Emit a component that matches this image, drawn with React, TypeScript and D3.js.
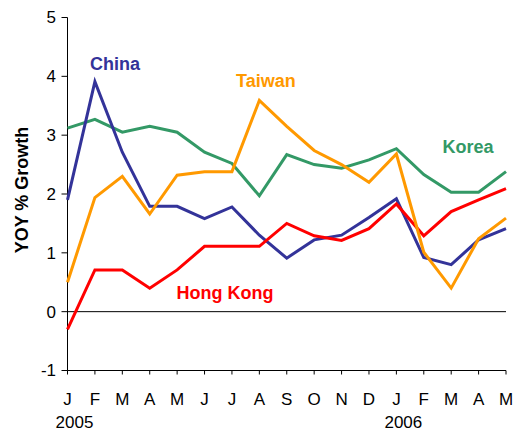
import React from "react";
import * as d3 from "d3";

const months = ["J", "F", "M", "A", "M", "J", "J", "A", "S", "O", "N", "D", "J", "F", "M", "A", "M"];
const years = [
  { label: "2005", index: 0 },
  { label: "2006", index: 12 },
];
const yTicks = [-1, 0, 1, 2, 3, 4, 5];

const korea = [3.12, 3.27, 3.05, 3.15, 3.05, 2.71, 2.52, 1.97, 2.67, 2.5, 2.44, 2.58, 2.77, 2.33, 2.03, 2.03, 2.38];
const china = [1.9, 3.91, 2.71, 1.79, 1.79, 1.58, 1.78, 1.3, 0.91, 1.22, 1.3, 1.6, 1.92, 0.92, 0.8, 1.22, 1.41];
const hongKong = [-0.3, 0.71, 0.71, 0.4, 0.71, 1.11, 1.11, 1.11, 1.5, 1.29, 1.21, 1.41, 1.83, 1.29, 1.7, 1.9, 2.09];
const taiwan = [0.5, 1.94, 2.3, 1.66, 2.32, 2.38, 2.38, 3.59, 3.15, 2.74, 2.5, 2.2, 2.68, 1.01, 0.4, 1.24, 1.59];

const series = [
  { name: "Korea", values: korea, color: "#339966", lx: 442.5, ly: 153 },
  { name: "China", values: china, color: "#333399", lx: 90, ly: 70 },
  { name: "Hong Kong", values: hongKong, color: "#FF0000", lx: 176.5, ly: 299 },
  { name: "Taiwan", values: taiwan, color: "#FF9900", lx: 236, ly: 87 },
];

const W = 522;
const H = 434;
const FONT = "'Liberation Sans', Arial, sans-serif";

export default function App() {
  const x = d3.scaleLinear().domain([0, months.length - 1]).range([67.5, 506]);
  const y = d3.scaleLinear().domain([-1, 5]).range([370.5, 17.5]);
  const line = d3
    .line<number>()
    .x((_, i) => x(i))
    .y((d) => y(d));

  const x0 = x(0);
  const x1 = x(months.length - 1);
  const yBottom = y(-1);

  return (
    <svg
      width={W}
      height={H}
      style={{ position: "fixed", left: 0, top: 0, background: "#fff" }}
      fontFamily={FONT}
    >
      <rect x={0} y={0} width={W} height={H} fill="#fff" />
      {/* zero line */}
      <line x1={x0} x2={x1} y1={y(0)} y2={y(0)} stroke="#000" strokeWidth={1} />
      {/* y axis */}
      <line x1={x0} x2={x0} y1={y(5)} y2={yBottom} stroke="#000" strokeWidth={1} />
      {yTicks.map((t) => (
        <g key={t}>
          <line x1={x0 - 6} x2={x0} y1={y(t)} y2={y(t)} stroke="#000" strokeWidth={1} />
          <text x={56} y={y(t)} dy="0.35em" textAnchor="end" fontSize={17} fill="#000">
            {t}
          </text>
        </g>
      ))}
      {/* x axis */}
      <line x1={x0} x2={x1} y1={yBottom} y2={yBottom} stroke="#000" strokeWidth={1} />
      {months.map((m, i) => (
        <g key={i}>
          <line x1={x(i)} x2={x(i)} y1={yBottom} y2={yBottom + 4} stroke="#000" strokeWidth={1} />
          <text x={x(i)} y={405} textAnchor="middle" fontSize={17} fill="#000">
            {m}
          </text>
        </g>
      ))}
      {years.map((yr) => (
        <text key={yr.label} x={x(yr.index) + 7} y={428} textAnchor="middle" fontSize={17} fill="#000">
          {yr.label}
        </text>
      ))}
      {/* y title */}
      <text
        transform={`translate(28,190) rotate(-90)`}
        textAnchor="middle"
        fontSize={18}
        fontWeight="bold"
        fill="#000"
      >
        YOY % Growth
      </text>
      {/* series */}
      {series.map((s) => (
        <path
          key={s.name}
          d={line(s.values) || ""}
          fill="none"
          stroke={s.color}
          strokeWidth={3}
          strokeLinejoin="miter"
        />
      ))}
      {series.map((s) => (
        <text key={s.name + "-l"} x={s.lx} y={s.ly} fontSize={18} fontWeight="bold" fill={s.color}>
          {s.name}
        </text>
      ))}
    </svg>
  );
}
